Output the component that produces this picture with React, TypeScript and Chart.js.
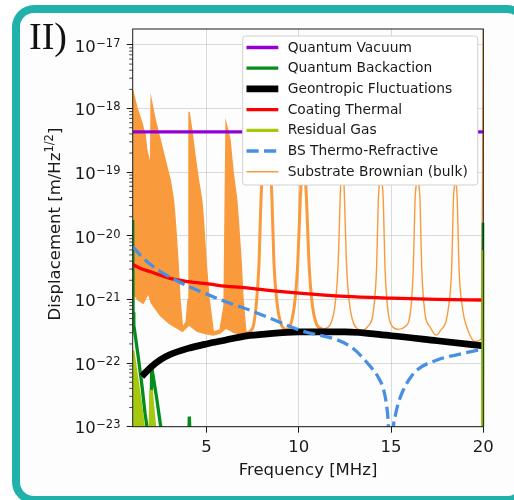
import React, { useEffect, useRef } from 'react';
import { Chart, registerables } from 'chart.js';

Chart.register(...registerables);

// ---------------- data ----------------
const X_TICKS = [5, 10, 15, 20];
const X_TICK_LABELS = ['5', '10', '15', '20'];
const Y_TICKS = [1e-23, 1e-22, 1e-21, 1e-20, 1e-19, 1e-18, 1e-17];
const Y_TICK_BASE = '10';
const Y_TICK_EXP = ['\u221223', '\u221222', '\u221221', '\u221220', '\u221219', '\u221218', '\u221217'];

const LEGEND_LABELS = [
  'Quantum Vacuum',
  'Quantum Backaction',
  'Geontropic Fluctuations',
  'Coating Thermal',
  'Residual Gas',
  'BS Thermo-Refractive',
  'Substrate Brownian (bulk)',
];

const QV_F = [1, 20];
const QV_VAL = [4.3e-19, 4.3e-19];

const QB_F = [1.0, 1.02, 1.06, 1.3, 1.5, 1.67, 1.8, 1.97, 2.03, 2.3, 2.57, 2.7, 4.0, 4.07, 4.14, 19.97, 20.0];
const QB_VAL = [1.78e-20, 6.3e-22, 3.98e-22, 1.26e-22, 4.47e-23, 1.6e-23, 8.9e-24, 5e-24, 8.7e-23, 2.8e-23, 7.9e-24, 3.2e-24, 3.2e-24, 1.45e-23, 3.2e-24, 2.5e-24, 1.6e-20];

const GEO_F = [1.49, 2.0, 2.48, 3.0, 4.0, 5.0, 6.0, 7.0, 8.0, 10.0, 12.5, 15.0, 17.5, 20.0];
const GEO_VAL = [6.17e-23, 8.7e-23, 1.12e-22, 1.35e-22, 1.7e-22, 2.0e-22, 2.29e-22, 2.63e-22, 2.82e-22, 3.09e-22, 3.09e-22, 2.69e-22, 2.24e-22, 1.86e-22];

const CT_F = [1.0, 1.4, 1.94, 2.5, 3.02, 4.0, 5.19, 6.0, 7.3, 8.5, 10.0, 12.5, 15.0, 17.5, 20.0];
const CT_VAL = [3.55e-21, 3.09e-21, 2.75e-21, 2.4e-21, 2.14e-21, 1.9e-21, 1.74e-21, 1.62e-21, 1.51e-21, 1.38e-21, 1.26e-21, 1.12e-21, 1.05e-21, 1.0e-21, 9.8e-22];

const GAS_F = [1.0, 1.2, 1.4, 1.6, 1.7, 1.92, 2.0, 2.2, 2.3, 19.97, 20.0];
const GAS_VAL = [1.58e-22, 6.3e-23, 2.5e-23, 8.9e-24, 5e-24, 5e-24, 3.8e-23, 8.9e-24, 4e-24, 2.5e-24, 6e-21];

const BS_F = [1.0, 1.5, 2.0, 2.66, 3.5, 4.47, 6.27, 7.36, 10.03, 12.8, 13.9, 14.3, 14.6, 14.75, 14.85, 14.97, 15.1, 15.25, 15.45, 15.67, 16.0, 16.4, 17.5, 18.56, 20.0];
const BS_VAL = [6.76e-21, 4.68e-21, 3.47e-21, 2.57e-21, 1.9e-21, 1.41e-21, 8.7e-22, 6.76e-22, 3.31e-22, 1.82e-22, 8.7e-23, 6.03e-23, 3.8e-23, 2.24e-23, 1.12e-23, 1e-24, 7.94e-24, 1.58e-23, 2.63e-23, 3.8e-23, 5.62e-23, 7.76e-23, 1.12e-22, 1.35e-22, 1.66e-22];

// Substrate Brownian, dense low-frequency part: upper and lower envelope
const SUB_UP_F = [1.0, 1.22, 1.49, 1.67, 1.76, 1.85, 1.97, 2.0, 2.22, 2.49, 2.76, 3.03, 3.21, 3.3, 3.45, 3.56, 3.7, 3.9, 4.0, 4.05, 4.2, 4.38, 4.56, 4.74, 4.83, 4.97, 5.14, 5.37, 5.73, 5.95, 6.06, 6.27, 6.45, 6.64, 6.72, 6.87, 6.98, 7.14];
const SUB_UP = [1.95e-18, 1.05e-18, 6.03e-19, 3.89e-19, 2.24e-19, 1.74e-19, 1.26e-19, 1.38e-18, 6.61e-19, 3.24e-19, 1.55e-19, 7.59e-20, 3.63e-20, 1.78e-20, 4.17e-21, 1e-21, 3.55e-22, 4.47e-22, 1e-21, 8.91e-19, 4.68e-19, 1.78e-19, 7.59e-20, 3.63e-20, 1.78e-20, 4.17e-21, 1e-21, 3.09e-22, 3.31e-22, 7.94e-22, 5.89e-19, 3.24e-19, 9.55e-20, 3.63e-20, 1.78e-20, 4.17e-21, 1e-21, 2.95e-22];
const SUB_LO_F = [1.0, 1.3, 1.57, 1.85, 2.0, 2.5, 3.0, 3.7, 4.05, 4.5, 5.0, 5.37, 5.73, 6.06, 6.5, 7.14];
const SUB_LO = [1.26e-21, 9.8e-22, 8.7e-22, 1.26e-21, 8.9e-22, 5.6e-22, 4.17e-22, 3.16e-22, 3.98e-22, 3.16e-22, 2.88e-22, 2.75e-22, 2.95e-22, 3.55e-22, 3.02e-22, 2.75e-22];

// Substrate Brownian, broad resonances at 8.3 and 10.3 MHz (drawn heavier)
const SUB_MID_F = [7.14, 7.5, 7.72, 7.85, 7.95, 8.05, 8.15, 8.26, 8.37, 8.47, 8.55, 8.65, 8.8, 9.0, 9.3,
  9.55, 9.8, 9.95, 10.08, 10.17, 10.25, 10.33, 10.42, 10.55, 10.7, 10.95, 11.3];
const SUB_MID = [2.95e-22, 3.55e-22, 1e-21, 3.98e-21, 3.63e-20, 1.26e-19, 3.16e-19, 3.98e-19, 3.16e-19, 1.26e-19, 3.63e-20, 3.98e-21, 1e-21, 4.47e-22, 3.39e-22,
  3.98e-22, 1e-21, 3.98e-21, 3.63e-20, 1.26e-19, 2.51e-19, 1.26e-19, 3.63e-20, 3.98e-21, 1e-21, 4.17e-22, 3.39e-22];

// Substrate Brownian, narrow resonances
const SUB_F = [11.3,
  11.7, 12.0, 12.14, 12.24, 12.3, 12.36, 12.42, 12.48, 12.58, 12.72, 12.98, 13.4,
  13.72, 14.05, 14.22, 14.31, 14.39, 14.445, 14.5, 14.58, 14.67, 14.83, 15.08, 15.42,
  15.75, 16.05, 16.21, 16.3, 16.38, 16.43, 16.49, 16.57, 16.66, 16.83, 17.11, 17.44,
  17.66, 18.09, 18.29, 18.38, 18.44, 18.49, 18.54, 18.59, 18.68, 18.89, 19.1, 19.55, 19.9, 20.0];
const SUB_VAL = [3.39e-22,
  3.98e-22, 1e-21, 3.98e-21, 3.63e-20, 1.12e-19, 1.78e-19, 1.12e-19, 3.63e-20, 3.98e-21, 1e-21, 4.17e-22, 3.31e-22,
  3.72e-22, 6.76e-22, 3.31e-21, 3.63e-20, 7.94e-20, 1.26e-19, 7.94e-20, 3.63e-20, 3.31e-21, 6.76e-22, 3.72e-22, 3.39e-22,
  3.72e-22, 6.31e-22, 3.31e-21, 3.63e-20, 7.08e-20, 1e-19, 7.08e-20, 3.63e-20, 3.31e-21, 6.31e-22, 3.72e-22, 2.75e-22,
  3.16e-22, 6.76e-22, 3.31e-21, 3.63e-20, 6.31e-20, 8.91e-20, 6.31e-20, 3.63e-20, 3.31e-21, 6.76e-22, 3.72e-22, 2.19e-22, 2.4e-22, 2e-17];

// ---------------- styles ----------------
const C_PURPLE = '#9400d3';
const C_GREEN = '#048c1c';
const C_BLACK = '#000000';
const C_RED = '#ff0000';
const C_YG = '#a6c80f';
const C_BLUE = '#4a90e2';
const C_ORANGE = '#f99a3c';
const C_TEAL = '#20b2aa';
const FONT = '"DejaVu Sans", sans-serif';

const LW = 3.3;

const legendStyles = [
  { color: C_PURPLE, width: LW, dash: [] as number[] },
  { color: C_GREEN, width: LW, dash: [] },
  { color: C_BLACK, width: 6.7, dash: [] },
  { color: C_RED, width: LW, dash: [] },
  { color: C_YG, width: LW, dash: [] },
  { color: C_BLUE, width: LW, dash: [12.2, 5.3] },
  { color: C_ORANGE, width: 1.4, dash: [] },
];

const pts = (fs: number[], vs: number[]) => fs.map((f, i) => ({ x: f, y: vs[i] }));

function roundRectPath(ctx: CanvasRenderingContext2D, x: number, y: number, w: number, h: number, r: number) {
  ctx.moveTo(x + r, y);
  ctx.arcTo(x + w, y, x + w, y + h, r);
  ctx.arcTo(x + w, y + h, x, y + h, r);
  ctx.arcTo(x, y + h, x, y, r);
  ctx.arcTo(x, y, x + w, y, r);
  ctx.closePath();
}

const framePlugin = {
  id: 'frame',
  beforeDraw(chart: any) {
    const { ctx } = chart;
    ctx.save();
    ctx.fillStyle = '#ffffff';
    ctx.fillRect(0, 0, 514, 500);
    ctx.beginPath();
    roundRectPath(ctx, 12, 5, 517, 499, 22);
    ctx.fillStyle = C_TEAL;
    ctx.fill();
    ctx.beginPath();
    roundRectPath(ctx, 20, 13, 501, 483, 14);
    ctx.fillStyle = '#fdfdfd';
    ctx.fill();
    ctx.restore();
  },
};

const decorPlugin = {
  id: 'decor',
  afterDatasetsDraw(chart: any) {
    const { ctx, chartArea: a, scales } = chart;
    const xs = scales.x;
    const ys = scales.y;
    ctx.save();
    // spines
    ctx.strokeStyle = '#1a1a1a';
    ctx.lineWidth = 1;
    ctx.strokeRect(a.left, a.top, a.right - a.left, a.bottom - a.top);
    // minor log ticks
    ctx.lineWidth = 0.8;
    ctx.beginPath();
    for (let e = -23; e <= -17; e++) {
      for (let k = 2; k <= 9; k++) {
        const v = k * Math.pow(10, e);
        if (v > ys.max) continue;
        const py = ys.getPixelForValue(v);
        ctx.moveTo(a.left - 3.5, py);
        ctx.lineTo(a.left, py);
      }
    }
    ctx.stroke();

    ctx.fillStyle = '#1a1a1a';
    // y tick labels
    Y_TICKS.forEach((v, i) => {
      const py = ys.getPixelForValue(v);
      ctx.font = `11.5px ${FONT}`;
      ctx.textAlign = 'left';
      ctx.textBaseline = 'alphabetic';
      const ew = ctx.measureText(Y_TICK_EXP[i]).width;
      const xr = 120.5 - ew;
      ctx.fillText(Y_TICK_EXP[i], xr, py + 1.7);
      ctx.font = `16.5px ${FONT}`;
      ctx.textAlign = 'right';
      ctx.fillText(Y_TICK_BASE, xr - 0.5, py + 6.7);
    });
    // x tick labels
    ctx.font = `16.5px ${FONT}`;
    ctx.textAlign = 'center';
    X_TICKS.forEach((v, i) => {
      const px = xs.getPixelForValue(v);
      ctx.fillText(X_TICK_LABELS[i], px, 451.7);
    });
    // x title
    ctx.fillText('Frequency [MHz]', (a.left + a.right) / 2, 475);
    // y title
    ctx.save();
    ctx.translate(59.5, 224);
    ctx.rotate(-Math.PI / 2);
    const p1 = 'Displacement [m/Hz';
    const p2 = '1/2';
    const p3 = ']';
    ctx.font = `16.5px ${FONT}`;
    const w1 = ctx.measureText(p1).width;
    const w3 = ctx.measureText(p3).width;
    ctx.font = `11.5px ${FONT}`;
    const w2 = ctx.measureText(p2).width;
    const x0 = -(w1 + w2 + w3) / 2;
    ctx.textAlign = 'left';
    ctx.font = `16.5px ${FONT}`;
    ctx.fillText(p1, x0, 0);
    ctx.font = `11.5px ${FONT}`;
    ctx.fillText(p2, x0 + w1, -6.5);
    ctx.font = `16.5px ${FONT}`;
    ctx.fillText(p3, x0 + w1 + w2, 0);
    ctx.restore();

    // panel label
    ctx.font = '38px "Liberation Serif", serif';
    ctx.textAlign = 'left';
    ctx.fillStyle = '#111';
    ctx.fillText('II)', 29, 48.5);

    // legend
    ctx.beginPath();
    roundRectPath(ctx, 242.7, 36, 235, 149, 3);
    ctx.fillStyle = '#ffffff';
    ctx.fill();
    ctx.strokeStyle = '#d0d0d0';
    ctx.lineWidth = 1;
    ctx.stroke();
    LEGEND_LABELS.forEach((lab, i) => {
      const cy = 47.5 + i * 20.7;
      const st = legendStyles[i];
      ctx.beginPath();
      ctx.strokeStyle = st.color;
      ctx.lineWidth = st.width;
      ctx.setLineDash(st.dash);
      ctx.lineCap = 'butt';
      ctx.moveTo(246.5, cy);
      ctx.lineTo(278.3, cy);
      ctx.stroke();
      ctx.setLineDash([]);
      ctx.fillStyle = '#1a1a1a';
      ctx.font = `13.8px ${FONT}`;
      ctx.textAlign = 'left';
      ctx.textBaseline = 'middle';
      ctx.fillText(lab, 287.7, cy + 0.5);
    });
    ctx.restore();
  },
};

export default function App() {
  const ref = useRef<HTMLCanvasElement>(null);
  useEffect(() => {
    const canvas = ref.current!;
    const densePoly = [...pts(SUB_UP_F, SUB_UP), ...pts(SUB_LO_F, SUB_LO).reverse()];
    const base = { pointRadius: 0, pointHoverRadius: 0, clip: { left: 0, top: 0, right: 1, bottom: 0 } };
    const gridCfg = {
      color: 'rgba(176,176,176,0.45)',
      lineWidth: 1,
      tickLength: 6,
      tickColor: '#1a1a1a',
      tickWidth: 1,
    };
    const chart = new Chart(canvas, {
      type: 'line',
      data: {
        datasets: [
          { ...base, label: 'BS Thermo-Refractive', data: pts(BS_F, BS_VAL), borderColor: C_BLUE, borderWidth: LW, borderDash: [12.2, 5.3], cubicInterpolationMode: 'monotone', fill: false },
          { ...base, label: 'Residual Gas', data: pts(GAS_F, GAS_VAL), borderColor: C_YG, backgroundColor: C_YG, borderWidth: LW, fill: 'start' },
          { ...base, label: 'Coating Thermal', data: pts(CT_F, CT_VAL), borderColor: C_RED, borderWidth: LW, cubicInterpolationMode: 'monotone', fill: false },
          { ...base, label: 'Geontropic Fluctuations', data: pts(GEO_F, GEO_VAL), borderColor: C_BLACK, borderWidth: 6.7, cubicInterpolationMode: 'monotone', fill: false },
          { ...base, label: 'Quantum Backaction', data: pts(QB_F, QB_VAL), borderColor: C_GREEN, borderWidth: LW, fill: false },
          { ...base, label: 'Quantum Vacuum', data: pts(QV_F, QV_VAL), borderColor: C_PURPLE, borderWidth: LW, fill: false },
          { ...base, label: 'Substrate Brownian (bulk)', data: pts(SUB_F, SUB_VAL), borderColor: C_ORANGE, borderWidth: 1.4, cubicInterpolationMode: 'monotone', fill: false },
          { ...base, label: 'Substrate Brownian mid', data: pts(SUB_MID_F, SUB_MID), borderColor: C_ORANGE, borderWidth: 3, cubicInterpolationMode: 'monotone', fill: false },
          { ...base, label: 'Substrate Brownian dense', data: densePoly, borderColor: C_ORANGE, backgroundColor: C_ORANGE, borderWidth: 1.4, fill: 'shape' },
        ] as any,
      },
      options: {
        animation: false,
        responsive: false,
        events: [],
        layout: { padding: { left: 0, top: 29, right: 30.7, bottom: 0 } },
        plugins: { legend: { display: false }, tooltip: { enabled: false }, title: { display: false } },
        scales: {
          x: {
            type: 'linear',
            min: 1,
            max: 20,
            grid: gridCfg,
            border: { display: false },
            ticks: { display: false },
            afterBuildTicks: (s: any) => { s.ticks = X_TICKS.map((v) => ({ value: v })); },
            afterFit: (s: any) => { s.height = 73.3; },
          },
          y: {
            type: 'logarithmic',
            min: 1e-23,
            max: 1.78e-17,
            grid: gridCfg,
            border: { display: false },
            ticks: { display: false },
            afterBuildTicks: (s: any) => { s.ticks = Y_TICKS.map((v) => ({ value: v })); },
            afterFit: (s: any) => { s.width = 132.7; },
          },
        },
      } as any,
      plugins: [framePlugin, decorPlugin],
    });
    return () => chart.destroy();
  }, []);

  return (
    <div style={{ position: 'fixed', left: 0, top: 0, width: 514, height: 500, overflow: 'hidden', background: '#ffffff' }}>
      <canvas ref={ref} width={514} height={500} style={{ display: 'block', width: 514, height: 500 }} />
    </div>
  );
}
